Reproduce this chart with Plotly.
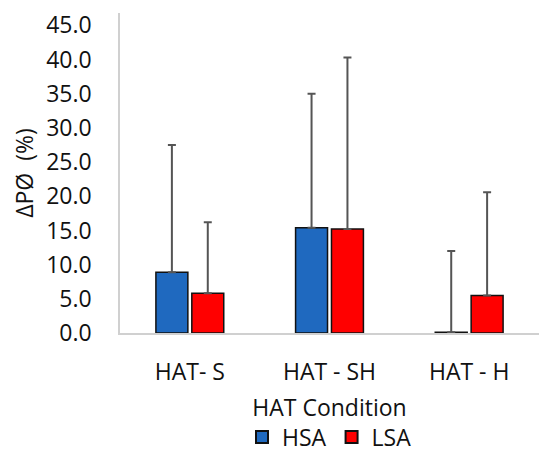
import plotly.graph_objects as go

categories = ["HAT- S", "HAT - SH", "HAT - H"]
hsa_values = [8.9, 15.4, 0.1]
hsa_err_plus = [18.6, 19.6, 11.9]
lsa_values = [5.8, 15.2, 5.5]
lsa_err_plus = [10.4, 25.1, 15.1]
y_ticks = [0, 5, 10, 15, 20, 25, 30, 35, 40, 45]

FONT = "Open Sans"
err_style = dict(type="data", symmetric=False, color="#555555", thickness=2, width=4)

fig = go.Figure()
fig.add_trace(go.Bar(
    name="HSA", x=categories, y=hsa_values,
    marker=dict(color="#1f69bf", line=dict(color="#111111", width=1.5)),
    error_y=dict(array=hsa_err_plus, arrayminus=[0, 0, 0], **err_style),
))
fig.add_trace(go.Bar(
    name="LSA", x=categories, y=lsa_values,
    marker=dict(color="#ff0000", line=dict(color="#111111", width=1.5)),
    error_y=dict(array=lsa_err_plus, arrayminus=[0, 0, 0], **err_style),
))

fig.update_layout(
    width=539, height=458,
    margin=dict(l=120, r=0, t=13, b=125, autoexpand=False),
    paper_bgcolor="white", plot_bgcolor="white",
    barmode="group", bargap=0.486, bargroupgap=0.11,
    font=dict(family=FONT, size=23, color="#111111"),
    showlegend=True,
    legend=dict(orientation="h", x=0.5, xanchor="center", y=-0.325, yanchor="middle",
                font=dict(size=23), itemsizing="constant", traceorder="normal"),
    xaxis=dict(
        automargin=False,
        showline=True, linecolor="#d0d0d0", linewidth=1.5,
        ticks="", showgrid=False, ticklabelstandoff=18,
        title=dict(text="HAT Condition", font=dict(size=23), standoff=14),
    ),
    yaxis=dict(
        automargin=False,
        range=[0, 46.8], tickvals=y_ticks, tickformat=".1f",
        showline=True, linecolor="#d0d0d0", linewidth=1.5,
        ticks="", showgrid=False, zeroline=False, ticklabelstandoff=22,
        title=dict(text="ΔPØ\u00a0 (%)", font=dict(size=23), standoff=6),
    ),
)

fig.write_html("out.html")
